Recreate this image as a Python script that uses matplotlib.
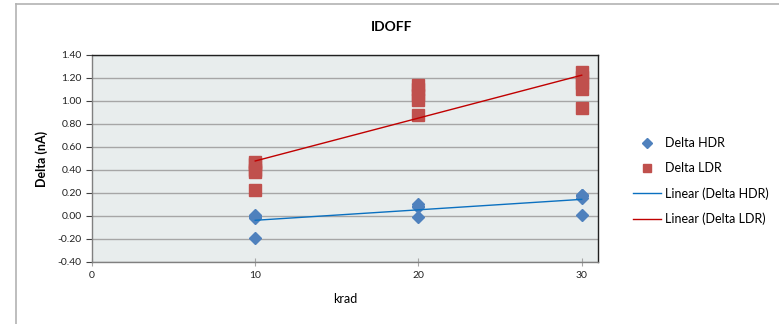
import matplotlib.pyplot as plt
import numpy as np
from matplotlib.lines import Line2D

plt.rcParams['font.family'] = ['Lato', 'DejaVu Sans']

# Data
hdr_x = [10, 10, 10, 10, 10, 20, 20, 20, 20, 30, 30, 30, 30, 30]
hdr_y = [0.01, 0.00, -0.01, -0.02, -0.19, 0.10, 0.09, 0.08, -0.01, 0.18, 0.18, 0.17, 0.16, 0.01]
ldr_x = [10, 10, 10, 10, 10, 20, 20, 20, 20, 20, 30, 30, 30, 30, 30]
ldr_y = [0.47, 0.45, 0.40, 0.38, 0.23, 1.14, 1.10, 1.05, 1.01, 0.88, 1.25, 1.21, 1.16, 1.10, 0.94]

x_ticks = [0, 10, 20, 30]
y_ticks = [-0.4, -0.2, 0.0, 0.2, 0.4, 0.6, 0.8, 1.0, 1.2, 1.4]

# linear trend lines, like Excel's "Linear (...)"
hdr_fit = np.polyfit(hdr_x, hdr_y, 1)
ldr_fit = np.polyfit(ldr_x, ldr_y, 1)
trend_x = np.array([10, 30])

fig = plt.figure(figsize=(7.79, 3.24), dpi=100)
ax = fig.add_axes([0.1181, 0.1914, 0.6496, 0.6389])

# outer chart border (top and left only visible)
fig.add_artist(Line2D([16 / 779, 1], [1 - 4 / 324, 1 - 4 / 324], color='#b3b3b3', lw=1.2))
fig.add_artist(Line2D([16 / 779, 16 / 779], [0, 1 - 4 / 324], color='#b3b3b3', lw=1.2))

ax.set_facecolor('#e8eded')
ax.set_axisbelow(True)
ax.grid(axis='y', color='#a6a6a6', lw=1.0)

ax.plot(hdr_x, hdr_y, linestyle='none', marker='D', ms=6.5, color='#4f81bd',
        label='Delta HDR', zorder=3)
ax.plot(ldr_x, ldr_y, linestyle='none', marker='s', ms=8, color='#c0504d',
        label='Delta LDR', zorder=3)
ax.plot(trend_x, np.polyval(hdr_fit, trend_x), color='#0a70c0', lw=1.0,
        label='Linear (Delta HDR)', zorder=4)
ax.plot(trend_x, np.polyval(ldr_fit, trend_x), color='#c00000', lw=1.0,
        label='Linear (Delta LDR)', zorder=4)

ax.set_xlim(0, 31)
ax.set_ylim(-0.4, 1.4)
ax.set_xticks(x_ticks)
ax.set_yticks(y_ticks)
ax.set_yticklabels([f'{v:.2f}' for v in y_ticks])
ax.tick_params(axis='both', labelsize=7.5, colors='#404040', length=4, width=0.8)
ax.tick_params(axis='x', direction='inout', length=6, color='#a6a6a6')
for lbl in ax.get_xticklabels() + ax.get_yticklabels():
    lbl.set_color('#222222')

ax.spines['left'].set_color('#808080')
ax.spines['bottom'].set_color('#808080')
ax.spines['top'].set_color('#202020')
ax.spines['right'].set_color('#202020')
for s in ax.spines.values():
    s.set_linewidth(1.0)

fig.text(392 / 779, 1 - 27 / 324, 'IDOFF', fontsize=10, fontweight='bold',
         ha='center', va='center')
ax.set_ylabel('Delta (nA)', fontsize=9, fontweight='bold', labelpad=7)
ax.set_xlabel('krad', fontsize=9, labelpad=9)

ax.legend(loc='center left', bbox_to_anchor=(1.047, 0.39), frameon=False,
          fontsize=9, labelspacing=1.05, handlelength=2.25, handletextpad=0.3,
          markerscale=0.75)

fig.savefig('out.png', dpi=100)
